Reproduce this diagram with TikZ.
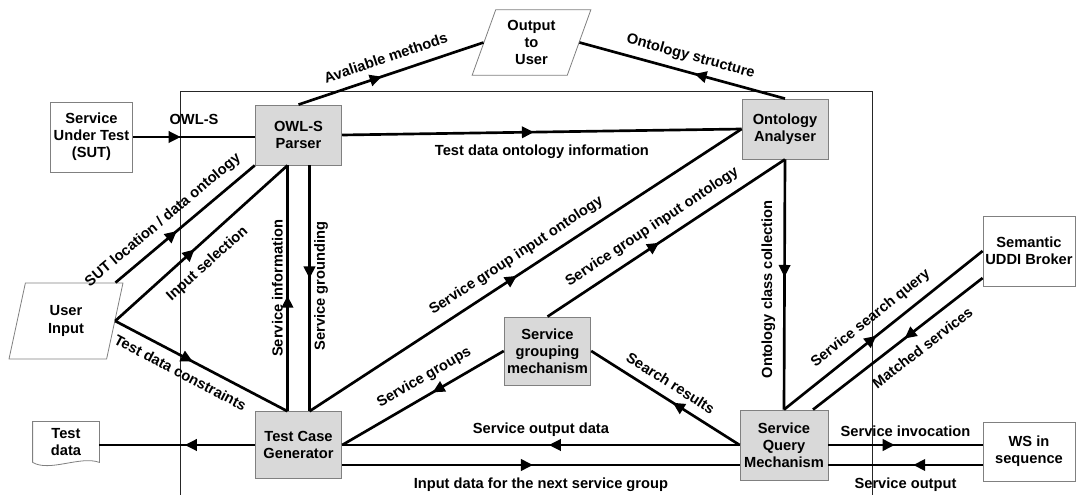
\documentclass[tikz,border=0pt]{standalone}
\usepackage{fontspec}
\setmainfont{Liberation Sans}
\usetikzlibrary{positioning,arrows.meta,calc,shapes.geometric,decorations.markings}

\begin{document}
\begin{tikzpicture}[
  x=0.75pt, y=-0.75pt,
  font=\bfseries\fontsize{11}{12.8}\selectfont,
  box/.style={rectangle, draw=black!50, line width=0.6pt, fill=white, align=center,
              inner sep=1pt, minimum width=65pt, minimum height=45pt},
  unit/.style={box, fill=black!15},
  slanted/.style={trapezium, trapezium left angle=63.5, trapezium right angle=116.5,
                  trapezium stretches body, draw=black!50, line width=0.6pt, fill=white,
                  align=center, inner sep=1pt},
  outline/.style={draw=black!50, line width=0.6pt},
  frame/.style={draw=black!85, line width=0.6pt},
  flow/.style={draw=black, line width=2pt},
  arr/.style={flow, postaction={decorate},
              decoration={markings, mark=at position #1 with {\arrow{Triangle[length=9pt,width=8.5pt]}}}},
  lbl/.style={inner sep=2.5pt}
]
\useasboundingbox (0,0) rectangle (1076,495);

% system boundary
\draw[frame] (180,495) |- (872,91) -- (872,495);

% nodes
\node[box, minimum width=62pt, minimum height=52.5pt] (sut) at (91.5,137) {Service\\Under Test\\(SUT)};
\node[unit] (parser) at (298.5,135) {OWL-S\\Parser};
\node[slanted, minimum width=89pt, minimum height=49pt] (out) at (531.5,42.5) {Output\\to\\User};
\node[unit, minimum width=64.5pt] (oa) at (785,129) {Ontology\\Analyser};
\node[box, minimum width=69pt, minimum height=52.5pt] (uddi) at (1029,251) {Semantic\\UDDI Broker};
\node[slanted, minimum width=85.5pt, minimum height=57pt] (in) at (66,321) {User\\Input};
\node[box, draw=none, fill=none, minimum width=49.5pt, minimum height=30pt] (td) at (66,442) {Test\\data};
\draw[outline] (td.south west) -- (td.north west) -- (td.north east) -- (td.south east)
  .. controls +(-19,-7) and +(17,10) .. (td.south west);
\node[unit, minimum height=50pt] (tcg) at (298.5,445) {Test Case\\Generator};
\node[unit, minimum height=51pt] (sgm) at (547.5,351) {Service\\grouping\\mechanism};
\node[unit, minimum width=66pt, minimum height=52.5pt] (sqm) at (784,445) {Service\\Query\\Mechanism};
\node[box, minimum width=69pt, minimum height=44.3pt] (ws) at (1029,451.5) {WS in\\sequence};

% flows
\draw[arr=0.39] (sut.east) -- (sut.east -| parser.west) node[lbl, midway, above=6pt] {OWL-S};
\draw[arr=0.48] (parser.east) -- (oa.west) node[lbl, midway, below=6pt] {Test data ontology information};
\draw[arr=0.45] (parser.north) -- (out.left side) node[lbl, sloped, pos=0.5, above=5pt] {Avaliable methods};
\draw[arr=0.44] (oa.north) -- (out.right side) node[lbl, sloped, pos=0.48, above=3pt] {Ontology structure};
\draw[arr=0.44] ($(in.top right corner)+(-8,0)$) -- (parser.south west)
  node[lbl, sloped, pos=0.42, above=4pt] {SUT location / data ontology};
\draw[arr=0.46] (in.right side) -- ($(parser.south)+(-11,0)$)
  node[lbl, sloped, pos=0.46, below=6pt] {Input selection};
\draw[arr=0.45] (in.right side) -- ($(tcg.north)+(-11,0)$)
  node[lbl, sloped, pos=0.42, below=4pt] {Test data constraints};
\draw[arr=0.47] ($(tcg.north)+(-11,0)$) -- ($(parser.south)+(-11,0)$)
  node[lbl, rotate=90, pos=0.5, above] {Service information};
\draw[arr=0.46] ($(parser.south)+(11,0)$) -- ($(tcg.north)+(11,0)$)
  node[lbl, rotate=90, pos=0.49, below] {Service grounding};
\draw[arr=0.48] ($(tcg.north)+(11,0)$) -- (oa.west)
  node[lbl, sloped, pos=0.5, above=4pt] {Service group input ontology};
\draw[arr=0.47] (sgm.north) -- (oa.south)
  node[lbl, sloped, pos=0.48, above=4pt] {Service group input ontology};
\draw[arr=0.47] (oa.south) -- (sqm.north)
  node[lbl, rotate=90, pos=0.52, above, inner sep=6pt] {Ontology class collection};
\draw[arr=0.44] (sgm.west) -- (tcg.east) node[lbl, sloped, pos=0.44, above=4pt] {Service groups};
\draw[arr=0.45] (sqm.west) -- (sgm.east) node[lbl, sloped, pos=0.52, above=4pt] {Search results};
\draw[arr=0.48] (sqm.west) -- (tcg.east) node[lbl, midway, above=3pt] {Service output data};
\draw[arr=0.48] ($(tcg.east)+(0,20)$) -- ($(sqm.west)+(0,20)$)
  node[lbl, midway, below=6pt] {Input data for the next service group};
\draw[arr=0.465] (sqm.north) -- (uddi.west) node[lbl, sloped, pos=0.49, above=4pt] {Service search query};
\draw[arr=0.46] ($(uddi.west)+(0,27)$) -- ($(sqm.north)+(29,0)$)
  node[lbl, sloped, pos=0.42, below=6pt] {Matched services};
\draw[arr=0.43] (sqm.east) -- ($(ws.west)+(0,-6.5)$) node[lbl, midway, above=3pt] {Service invocation};
\draw[arr=0.45] ($(ws.west)+(0,13.5)$) -- ($(sqm.east)+(0,20)$)
  node[lbl, midway, below=6pt] {Service output};
\draw[arr=0.45] (tcg.west) -- (tcg.west -| td.east);
\end{tikzpicture}
\end{document}
